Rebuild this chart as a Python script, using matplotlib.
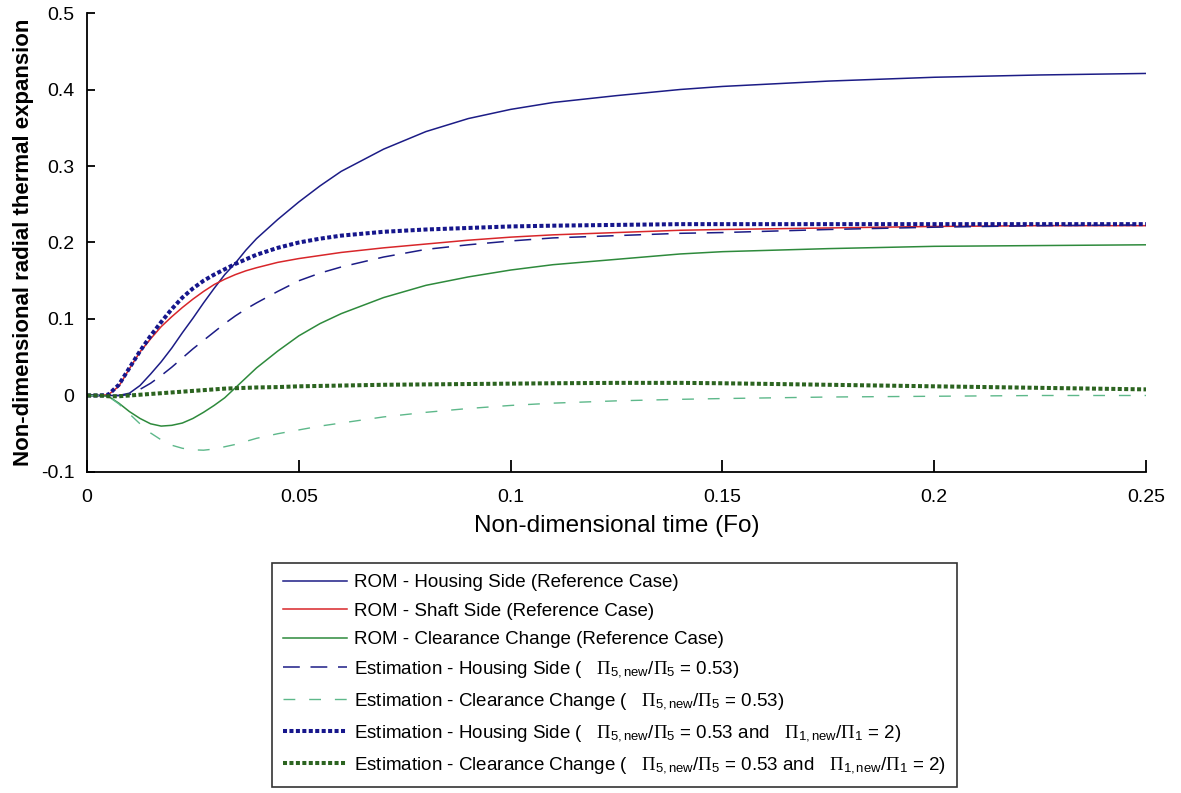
import numpy as np
import matplotlib
matplotlib.use('Agg')
import matplotlib.pyplot as plt
from matplotlib.ticker import FuncFormatter

plt.rcParams['font.family'] = ['Liberation Sans', 'DejaVu Sans']
plt.rcParams['mathtext.fontset'] = 'custom'
plt.rcParams['mathtext.rm'] = 'Liberation Serif'
plt.rcParams['mathtext.sf'] = 'Liberation Sans'
plt.rcParams['mathtext.it'] = 'Liberation Serif:italic'

# shared time grid (Fo)
fo = [0, 0.003, 0.005, 0.0075, 0.01, 0.0125, 0.015, 0.0175, 0.02, 0.0225,
      0.025, 0.0275, 0.03, 0.0325, 0.035, 0.0375, 0.04, 0.045, 0.05, 0.055,
      0.06, 0.07, 0.08, 0.09, 0.1, 0.11, 0.125, 0.14, 0.15, 0.175, 0.2,
      0.225, 0.25]

# ROM reference case
rom_housing = [0, 0, 0, 0, 0.003, 0.013, 0.028, 0.044, 0.062, 0.082,
               0.101, 0.121, 0.140, 0.158, 0.173, 0.190, 0.205, 0.230, 0.253, 0.274,
               0.293, 0.322, 0.345, 0.362, 0.374, 0.383, 0.392, 0.400, 0.404, 0.411,
               0.416, 0.419, 0.421]
rom_shaft = [0, 0, 0.001, 0.012, 0.035, 0.057, 0.074, 0.090, 0.103, 0.115,
             0.126, 0.136, 0.145, 0.152, 0.158, 0.163, 0.167, 0.174, 0.179, 0.183,
             0.187, 0.193, 0.198, 0.203, 0.207, 0.210, 0.213, 0.216, 0.217, 0.219,
             0.221, 0.222, 0.222]
rom_clearance = [0, 0, -0.001, -0.010, -0.021, -0.030, -0.037, -0.040, -0.039, -0.036,
                 -0.030, -0.022, -0.013, -0.003, 0.010, 0.023, 0.036, 0.058, 0.078, 0.094,
                 0.107, 0.128, 0.144, 0.155, 0.164, 0.171, 0.178, 0.185, 0.188, 0.192,
                 0.195, 0.196, 0.197]

# estimations, Pi5 ratio 0.53
est_housing_a = [0, 0, 0, 0, 0.001, 0.008, 0.016, 0.026, 0.037, 0.049,
                 0.061, 0.072, 0.083, 0.094, 0.104, 0.113, 0.121, 0.136, 0.150, 0.160,
                 0.168, 0.181, 0.191, 0.197, 0.202, 0.206, 0.209, 0.212, 0.213, 0.217,
                 0.220, 0.222, 0.223]
est_clear_a = [0, 0, -0.001, -0.011, -0.024, -0.037, -0.049, -0.058, -0.065, -0.069,
               -0.071, -0.0715, -0.070, -0.067, -0.064, -0.060, -0.056, -0.050, -0.045, -0.040,
               -0.036, -0.028, -0.022, -0.017, -0.013, -0.010, -0.007, -0.005, -0.004, -0.002,
               -0.001, 0.0, 0.0]

# estimations, Pi5 ratio 0.53 and Pi1 ratio 2
est_housing_b = [0, 0, 0.001, 0.014, 0.036, 0.058, 0.078, 0.096, 0.113, 0.128,
                 0.140, 0.150, 0.158, 0.165, 0.172, 0.178, 0.184, 0.193, 0.200, 0.205,
                 0.209, 0.214, 0.217, 0.219, 0.221, 0.222, 0.223, 0.224, 0.224, 0.224,
                 0.224, 0.224, 0.224]
est_clear_b = [0, 0, -0.001, -0.001, 0.0, 0.001, 0.002, 0.003, 0.004, 0.005,
               0.006, 0.007, 0.008, 0.009, 0.0095, 0.010, 0.0105, 0.011, 0.012, 0.0125,
               0.013, 0.014, 0.0145, 0.015, 0.0155, 0.016, 0.0165, 0.0165, 0.016, 0.014,
               0.012, 0.010, 0.008]

r5 = r'$\mathrm{\Pi}_{\mathsf{5,new}}$/$\mathrm{\Pi}_{\mathsf{5}}$'
r1 = r'$\mathrm{\Pi}_{\mathsf{1,new}}$/$\mathrm{\Pi}_{\mathsf{1}}$'
labels = ['ROM - Housing Side (Reference Case)',
          'ROM - Shaft Side (Reference Case)',
          'ROM - Clearance Change (Reference Case)',
          'Estimation - Housing Side (   ' + r5 + ' = 0.53)',
          'Estimation - Clearance Change (   ' + r5 + ' = 0.53)',
          'Estimation - Housing Side (   ' + r5 + ' = 0.53 and   ' + r1 + ' = 2)',
          'Estimation - Clearance Change (   ' + r5 + ' = 0.53 and   ' + r1 + ' = 2)']

fig = plt.figure(figsize=(11.81, 7.93), dpi=100)
ax = fig.add_axes([0.0737, 0.4048, 0.8967, 0.5788])

navy = '#1c1c86'
ax.plot(fo, rom_housing, color=navy, lw=1.1, label=labels[0])
ax.plot(fo, rom_shaft, color='#d8262a', lw=1.1, label=labels[1])
ax.plot(fo, rom_clearance, color='#2e8a3c', lw=1.1, label=labels[2])
ax.plot(fo, est_housing_a, color=navy, lw=1.1, dashes=(11, 7), label=labels[3])
ax.plot(fo, est_clear_a, color='#5db88a', lw=1.0, dashes=(8.5, 10), label=labels[4])
ax.plot(fo, est_housing_b, color='#16168c', lw=2.9, dashes=(1, 0.6), label=labels[5])
ax.plot(fo, est_clear_b, color='#2c6420', lw=2.9, dashes=(1, 0.6), label=labels[6])

ax.set_xlim(0, 0.25)
ax.set_ylim(-0.1, 0.5)
ax.set_xticks([0, 0.05, 0.1, 0.15, 0.2, 0.25])
ax.set_yticks([-0.1, 0, 0.1, 0.2, 0.3, 0.4, 0.5])
fmt = FuncFormatter(lambda v, p: '%g' % round(v, 4))
ax.xaxis.set_major_formatter(fmt)
ax.yaxis.set_major_formatter(fmt)
ax.spines['top'].set_visible(False)
ax.spines['right'].set_visible(False)
for s in ['left', 'bottom']:
    ax.spines[s].set_linewidth(1.3)
ax.tick_params(axis='both', direction='in', labelsize=14, width=1.3)
ax.tick_params(axis='x', length=9, pad=12)
ax.tick_params(axis='y', length=6, pad=9)

ax.set_xlabel('Non-dimensional time (Fo)', fontsize=17.5, labelpad=7)
ax.set_ylabel('Non-dimensional radial thermal expansion', fontsize=16,
              fontweight='bold', labelpad=5)

leg = fig.legend(loc='upper left', bbox_to_anchor=(0.230, 0.290), fontsize=13.5,
                 frameon=True, fancybox=False, handlelength=3.4, handletextpad=0.4,
                 borderpad=0.6, labelspacing=0.6, borderaxespad=0)
leg.get_frame().set_edgecolor('black')
leg.get_frame().set_linewidth(1.2)

plt.savefig('out.png', dpi=100)
